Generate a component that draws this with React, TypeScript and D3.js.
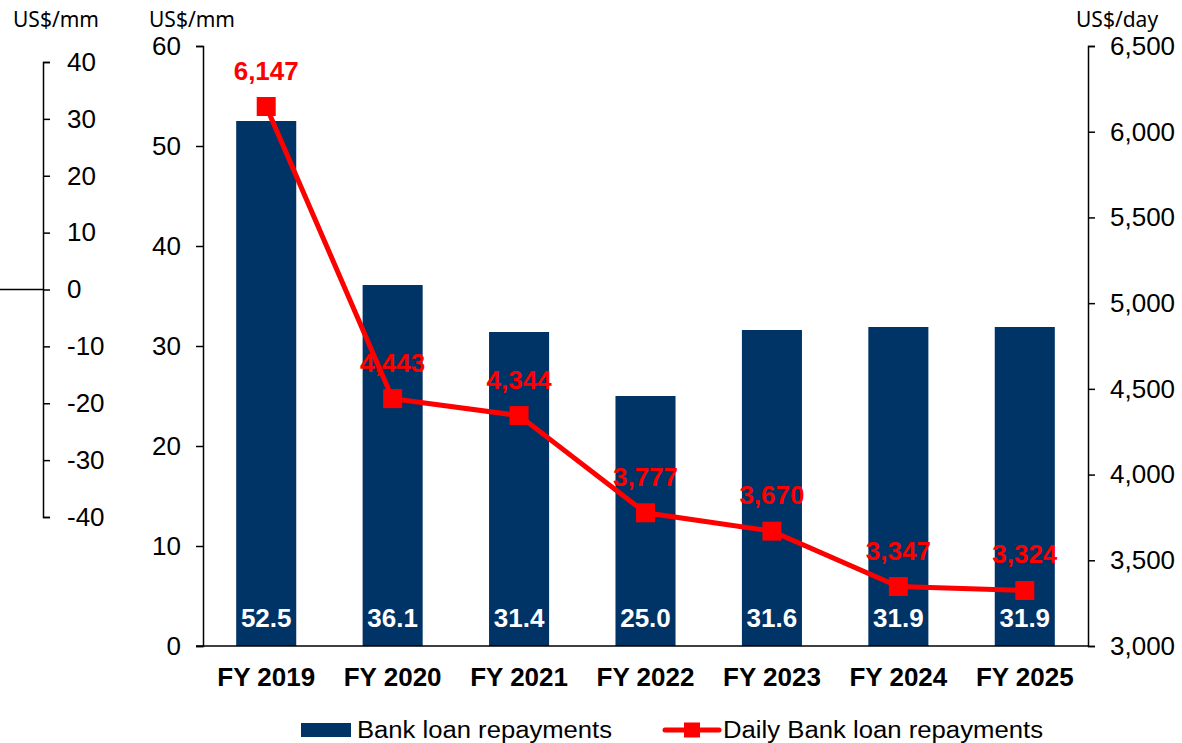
import React, { useEffect, useRef } from "react";
import * as d3 from "d3";

const years = ["FY 2019", "FY 2020", "FY 2021", "FY 2022", "FY 2023", "FY 2024", "FY 2025"];
const repayments = [52.5, 36.1, 31.4, 25.0, 31.6, 31.9, 31.9];
const dailyRepayments = [6147, 4443, 4344, 3777, 3670, 3347, 3324];
const leftTicks = [0, 10, 20, 30, 40, 50, 60];
const farLeftTicks = [-40, -30, -20, -10, 0, 10, 20, 30, 40];
const rightTicks = [3000, 3500, 4000, 4500, 5000, 5500, 6000, 6500];

const NAVY = "#003366";
const RED = "#ff0000";
const FONT = "'Liberation Sans', Arial, sans-serif";
const UNIT_FONT = "'Noto Sans', 'Open Sans', sans-serif";

export default function App() {
    const svgRef = useRef<SVGSVGElement>(null);

    useEffect(() => {
        if (!svgRef.current) return;
        const svg = d3.select(svgRef.current);
        svg.selectAll("*").remove();

        const plot = { left: 203, right: 1088, top: 46, bottom: 646 };

        // Scales
        const x = d3.scaleBand<string>().domain(years).range([plot.left, plot.right]).paddingInner(0.525).paddingOuter(0.2625);
        const y = d3.scaleLinear().domain([0, 60]).range([plot.bottom, plot.top]);
        const yRight = d3.scaleLinear().domain([3000, 6500]).range([plot.bottom, plot.top]);
        const yFar = d3.scaleLinear().domain([-40, 40]).range([517, 62]);
        const cx = (d: string) => (x(d) || 0) + x.bandwidth() / 2;

        // Bars
        svg.append("g")
            .selectAll("rect")
            .data(repayments)
            .join("rect")
            .attr("x", (d, i) => x(years[i]) || 0)
            .attr("y", (d) => y(d))
            .attr("width", x.bandwidth())
            .attr("height", (d) => y(0) - y(d))
            .attr("fill", NAVY);

        // Bar values (inside, near bottom)
        svg.append("g")
            .selectAll("text")
            .data(repayments)
            .join("text")
            .attr("x", (d, i) => cx(years[i]))
            .attr("y", 627)
            .attr("text-anchor", "middle")
            .attr("fill", "#ffffff")
            .attr("font-family", FONT)
            .attr("font-weight", "bold")
            .attr("font-size", 26)
            .text((d) => d.toFixed(1));

        // Axes styling helper
        const style = (g: d3.Selection<SVGGElement, unknown, null, undefined>) => {
            g.selectAll("path, line").attr("stroke", "#000").attr("stroke-width", 1.5);
            g.selectAll("text").attr("font-family", FONT).attr("font-size", 26).attr("fill", "#000");
        };

        // Main left axis
        const gLeft = svg.append("g").attr("transform", `translate(${plot.left},0)`)
            .call(d3.axisLeft(y).tickValues(leftTicks).tickSize(7).tickPadding(15).tickSizeOuter(7));
        style(gLeft);

        // Right axis
        const gRight = svg.append("g").attr("transform", `translate(${plot.right},0)`)
            .call(d3.axisRight(yRight).tickValues(rightTicks).tickSize(7).tickPadding(15).tickSizeOuter(7).tickFormat(d3.format(",")));
        style(gRight);

        // Far left secondary axis (plain hyphen minus like the original)
        const gFar = svg.append("g").attr("transform", "translate(43,0)")
            .call(d3.axisRight(yFar).tickValues(farLeftTicks).tickSize(7).tickPadding(17).tickSizeOuter(7)
                .tickFormat((d) => String(d)));
        style(gFar);
        gFar.selectAll("text").attr("x", 24).attr("text-anchor", "start");
        svg.append("line")
            .attr("x1", 0).attr("x2", 43)
            .attr("y1", yFar(0)).attr("y2", yFar(0))
            .attr("stroke", "#000").attr("stroke-width", 1.5);

        // X axis
        const gX = svg.append("g").attr("transform", `translate(0,${plot.bottom})`)
            .call(d3.axisBottom(x).tickSize(0).tickPadding(20));
        gX.select(".domain").remove();
        gX.selectAll("text")
            .attr("font-family", FONT).attr("font-size", 26).attr("font-weight", "bold").attr("fill", "#000")
            .attr("y", 40).attr("dy", 0);
        svg.append("line")
            .attr("x1", plot.left - 7).attr("x2", plot.right)
            .attr("y1", plot.bottom).attr("y2", plot.bottom)
            .attr("stroke", "#000").attr("stroke-width", 1.5);

        // Line series
        const line = d3.line<number>()
            .x((d, i) => cx(years[i]))
            .y((d) => yRight(d));
        svg.append("path")
            .datum(dailyRepayments)
            .attr("fill", "none")
            .attr("stroke", RED)
            .attr("stroke-width", 5)
            .attr("d", line);
        svg.append("g")
            .selectAll("rect")
            .data(dailyRepayments)
            .join("rect")
            .attr("x", (d, i) => cx(years[i]) - 9.5)
            .attr("y", (d) => yRight(d) - 9.5)
            .attr("width", 19)
            .attr("height", 19)
            .attr("fill", RED);
        svg.append("g")
            .selectAll("text")
            .data(dailyRepayments)
            .join("text")
            .attr("x", (d, i) => cx(years[i]))
            .attr("y", (d) => yRight(d) - 27)
            .attr("text-anchor", "middle")
            .attr("fill", RED)
            .attr("font-family", FONT)
            .attr("font-weight", "bold")
            .attr("font-size", 26)
            .text((d) => d3.format(",")(d));

        // Unit labels
        const units = [
            { t: "US$/mm", x: 13 },
            { t: "US$/mm", x: 149 },
            { t: "US$/day", x: 1076 },
        ];
        svg.append("g")
            .selectAll("text")
            .data(units)
            .join("text")
            .attr("x", (d) => d.x)
            .attr("y", 27)
            .attr("font-family", UNIT_FONT)
            .attr("font-size", 21)
            .attr("fill", "#000")
            .text((d) => d.t);

        // Legend
        const legend = svg.append("g").attr("font-family", FONT).attr("font-size", 23).attr("fill", "#000");
        legend.append("rect").attr("x", 301).attr("y", 723).attr("width", 50).attr("height", 14).attr("fill", NAVY);
        legend.append("text").attr("x", 357).attr("y", 738)
            .attr("textLength", 255).attr("lengthAdjust", "spacingAndGlyphs")
            .text("Bank loan repayments");
        legend.append("line").attr("x1", 665).attr("x2", 719).attr("y1", 730).attr("y2", 730)
            .attr("stroke", RED).attr("stroke-width", 5).attr("stroke-linecap", "round");
        legend.append("rect").attr("x", 684).attr("y", 722.5).attr("width", 16).attr("height", 15).attr("fill", RED);
        legend.append("text").attr("x", 723).attr("y", 738)
            .attr("textLength", 320).attr("lengthAdjust", "spacingAndGlyphs")
            .text("Daily Bank loan repayments");
    }, []);

    return (
        <svg
            ref={svgRef}
            width={1182}
            height={743}
            style={{ position: "absolute", left: 0, top: 0, background: "#fff" }}
        />
    );
}
